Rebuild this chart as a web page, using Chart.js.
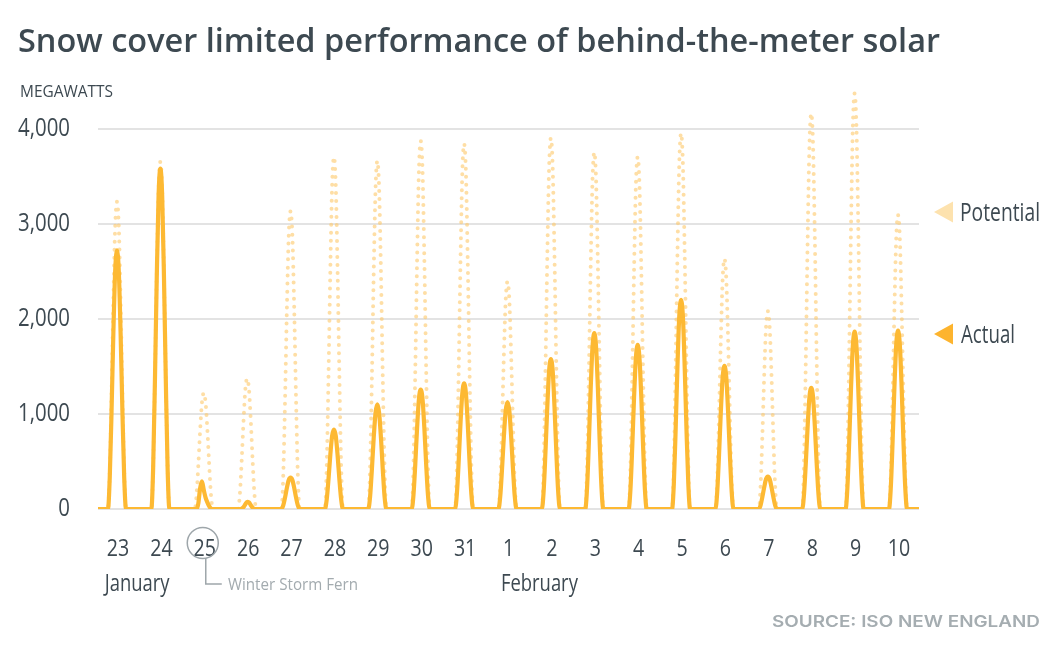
<!DOCTYPE html>
<html>
<head>
<meta charset="utf-8">
<script src="https://cdn.jsdelivr.net/npm/chart.js"></script>
<style>
  html, body { margin: 0; padding: 0; background: #fff; }
  canvas { display: block; }
</style>
</head>
<body>
<canvas id="myChart" width="1060" height="658"></canvas>
<script>
// days shown on the x axis (Jan 23 - Feb 10)
const dayLabels = ['23', '24', '25', '26', '27', '28', '29', '30', '31', '1', '2', '3', '4', '5', '6', '7', '8', '9', '10'];
const monthNames = ['January', 'February'];
const monthStartDay = [0, 9];
const stormDay = 2;
const stormLabel = 'Winter Storm Fern';

// hourly readings 8:00 - 16:00, zero outside daylight
const hoursOfDay = [8, 9, 10, 11, 12, 13, 14, 15, 16];

const actualMW = [
  [330, 1030, 1850, 2500, 2720, 2500, 1850, 1030, 330],
  [430, 1360, 2430, 3290, 3580, 3290, 2430, 1360, 430],
  [0, 60, 220, 290, 200, 120, 70, 30, 5],
  [0, 5, 20, 50, 75, 70, 40, 15, 0],
  [40, 125, 225, 305, 330, 305, 225, 125, 40],
  [100, 315, 570, 770, 835, 770, 570, 315, 100],
  [130, 420, 750, 1010, 1100, 1010, 750, 420, 130],
  [150, 475, 855, 1155, 1255, 1155, 855, 475, 150],
  [160, 500, 900, 1215, 1320, 1215, 900, 500, 160],
  [135, 430, 765, 1035, 1125, 1035, 765, 430, 135],
  [190, 600, 1070, 1450, 1575, 1450, 1070, 600, 190],
  [220, 700, 1260, 1700, 1850, 1700, 1260, 700, 220],
  [205, 655, 1175, 1585, 1725, 1585, 1175, 655, 205],
  [265, 835, 1495, 2025, 2200, 2025, 1495, 835, 265],
  [180, 570, 1025, 1385, 1505, 1385, 1025, 570, 180],
  [40, 130, 230, 315, 340, 315, 230, 130, 40],
  [155, 485, 865, 1175, 1275, 1175, 865, 485, 155],
  [225, 710, 1270, 1715, 1865, 1715, 1270, 710, 225],
  [225, 710, 1275, 1725, 1875, 1725, 1275, 710, 225]
];

const potentialMW = [
  [390, 1225, 2195, 2970, 3230, 2970, 2195, 1225, 390],
  [440, 1385, 2480, 3360, 3650, 3360, 2480, 1385, 440],
  [145, 465, 830, 1120, 1220, 1120, 830, 465, 145],
  [165, 520, 930, 1260, 1370, 1260, 930, 520, 165],
  [375, 1190, 2130, 2880, 3130, 2880, 2130, 1190, 375],
  [445, 1405, 2515, 3405, 3700, 3405, 2515, 1405, 445],
  [440, 1390, 2490, 3365, 3660, 3365, 2490, 1390, 440],
  [465, 1470, 2630, 3560, 3870, 3560, 2630, 1470, 465],
  [460, 1460, 2610, 3535, 3840, 3535, 2610, 1460, 460],
  [285, 910, 1625, 2200, 2390, 2200, 1625, 910, 285],
  [470, 1480, 2650, 3590, 3900, 3590, 2650, 1480, 470],
  [450, 1425, 2550, 3450, 3750, 3450, 2550, 1425, 450],
  [445, 1405, 2515, 3405, 3700, 3405, 2515, 1405, 445],
  [475, 1500, 2685, 3635, 3950, 3635, 2685, 1500, 475],
  [315, 1000, 1790, 2420, 2630, 2420, 1790, 1000, 315],
  [250, 790, 1415, 1915, 2080, 1915, 1415, 790, 250],
  [500, 1580, 2830, 3825, 4160, 3825, 2830, 1580, 500],
  [525, 1660, 2970, 4020, 4370, 4020, 2970, 1660, 525],
  [370, 1175, 2100, 2845, 3090, 2845, 2100, 1175, 370]
];

const yTickValues = [0, 1000, 2000, 3000, 4000];

const ACTUAL = '#FDB933';
const POTENTIAL = 'rgba(253, 200, 105, 0.6)';
const TEXT = '#3D4951';
const GREY = '#A3ABAF';

function toPoints(rows) {
  const pts = [{ x: 0, y: 0 }];
  rows.forEach((vals, d) => {
    pts.push({ x: d * 24 + 7, y: 0 });
    vals.forEach((v, i) => pts.push({ x: d * 24 + hoursOfDay[i], y: v }));
    pts.push({ x: d * 24 + 17, y: 0 });
  });
  pts.push({ x: dayLabels.length * 24, y: 0 });
  return pts;
}

// draws text squeezed horizontally to a given width (fonts here are not condensed)
function fitText(ctx, text, x, y, font, color, align, width) {
  ctx.save();
  ctx.font = font;
  ctx.fillStyle = color;
  ctx.textBaseline = 'alphabetic';
  const w = ctx.measureText(text).width;
  const sx = width / w;
  ctx.translate(x, y);
  ctx.scale(sx, 1);
  ctx.textAlign = align;
  ctx.fillText(text, 0, 0);
  ctx.restore();
}

function squeezed(ctx, text, x, y, font, color, align, sx) {
  ctx.save();
  ctx.font = font;
  ctx.fillStyle = color;
  ctx.textAlign = align;
  ctx.textBaseline = 'middle';
  ctx.translate(x, y);
  ctx.scale(sx, 1);
  ctx.fillText(text, 0, 0);
  ctx.restore();
}

function triangle(ctx, x, y, color) {
  ctx.save();
  ctx.fillStyle = color;
  ctx.beginPath();
  ctx.moveTo(x, y);
  ctx.lineTo(x + 19, y - 10.5);
  ctx.lineTo(x + 19, y + 10.5);
  ctx.closePath();
  ctx.fill();
  ctx.restore();
}

const textPlugin = {
  id: 'texts',
  afterDraw(chart) {
    const ctx = chart.ctx;
    const xs = chart.scales.x;
    const ys = chart.scales.y;

    fitText(ctx, 'Snow cover limited performance of behind-the-meter solar', 18, 52, '600 32px "Open Sans"', TEXT, 'left', 922);
    fitText(ctx, 'MEGAWATTS', 20, 97, '16px "Open Sans"', TEXT, 'left', 93);

    ctx.font = '25px "Open Sans"';
    const sxNum = 52 / ctx.measureText('4,000').width;
    yTickValues.forEach(v => {
      squeezed(ctx, v.toLocaleString('en-US'), 70, ys.getPixelForValue(v), '25px "Open Sans"', TEXT, 'right', sxNum);
    });

    dayLabels.forEach((lab, d) => {
      squeezed(ctx, lab, xs.getPixelForValue(d * 24 + 12) + 1, 549, '24px "Open Sans"', TEXT, 'center', sxNum);
    });

    monthNames.forEach((m, i) => {
      const cx = xs.getPixelForValue(monthStartDay[i] * 24 + 12);
      ctx.font = '24px "Open Sans"';
      const halfDay = ctx.measureText(dayLabels[monthStartDay[i]]).width * sxNum / 2;
      squeezed(ctx, m, cx - halfDay - 1, 584, '24px "Open Sans"', TEXT, 'left', sxNum * 0.94);
    });

    // storm annotation
    const sx = xs.getPixelForValue(stormDay * 24 + 12);
    ctx.save();
    ctx.strokeStyle = '#9EA6AA';
    ctx.lineWidth = 1.5;
    ctx.beginPath();
    ctx.arc(sx - 1, 543, 15.5, 0, Math.PI * 2);
    ctx.stroke();
    ctx.beginPath();
    ctx.moveTo(sx + 2, 558.5);
    ctx.lineTo(sx + 2, 584);
    ctx.lineTo(sx + 18, 584);
    ctx.stroke();
    ctx.restore();
    fitText(ctx, stormLabel, 228, 590, '17px "Open Sans"', GREY, 'left', 130);

    // series labels
    triangle(ctx, 934, 212, '#FDE2AE');
    fitText(ctx, 'Potential', 960, 221, '26px "Open Sans"', TEXT, 'left', 80);
    triangle(ctx, 934, 334, '#FDB42E');
    fitText(ctx, 'Actual', 961, 343, '26px "Open Sans"', TEXT, 'left', 54);

    fitText(ctx, 'SOURCE: ISO NEW ENGLAND', 1040, 627, '600 16px Inter', '#A5ADB1', 'right', 268);
  }
};

const ctx = document.getElementById('myChart').getContext('2d');
const myChart = new Chart(ctx, {
  type: 'line',
  data: {
    datasets: [{
      label: 'Actual',
      data: toPoints(actualMW),
      borderColor: ACTUAL,
      borderWidth: 4.2,
      pointRadius: 0,
      cubicInterpolationMode: 'monotone',
      borderJoinStyle: 'round',
      borderCapStyle: 'round'
    }, {
      label: 'Potential',
      data: toPoints(potentialMW),
      borderColor: POTENTIAL,
      borderWidth: 4,
      borderDash: [0, 8],
      borderCapStyle: 'round',
      pointRadius: 0,
      cubicInterpolationMode: 'monotone'
    }]
  },
  options: {
    responsive: false,
    animation: false,
    layout: { padding: { left: 98, right: 141, top: 81, bottom: 149 } },
    scales: {
      x: {
        type: 'linear',
        min: 1.5,
        max: 455.6,
        display: false
      },
      y: {
        min: 0,
        max: 4500,
        afterBuildTicks: scale => { scale.ticks = yTickValues.map(v => ({ value: v })); },
        grid: { color: '#E3E3E3', lineWidth: 2, drawTicks: false },
        border: { display: false },
        ticks: { display: false }
      }
    },
    plugins: {
      legend: { display: false },
      tooltip: { enabled: false }
    }
  },
  plugins: [textPlugin]
});
</script>
</body>
</html>
